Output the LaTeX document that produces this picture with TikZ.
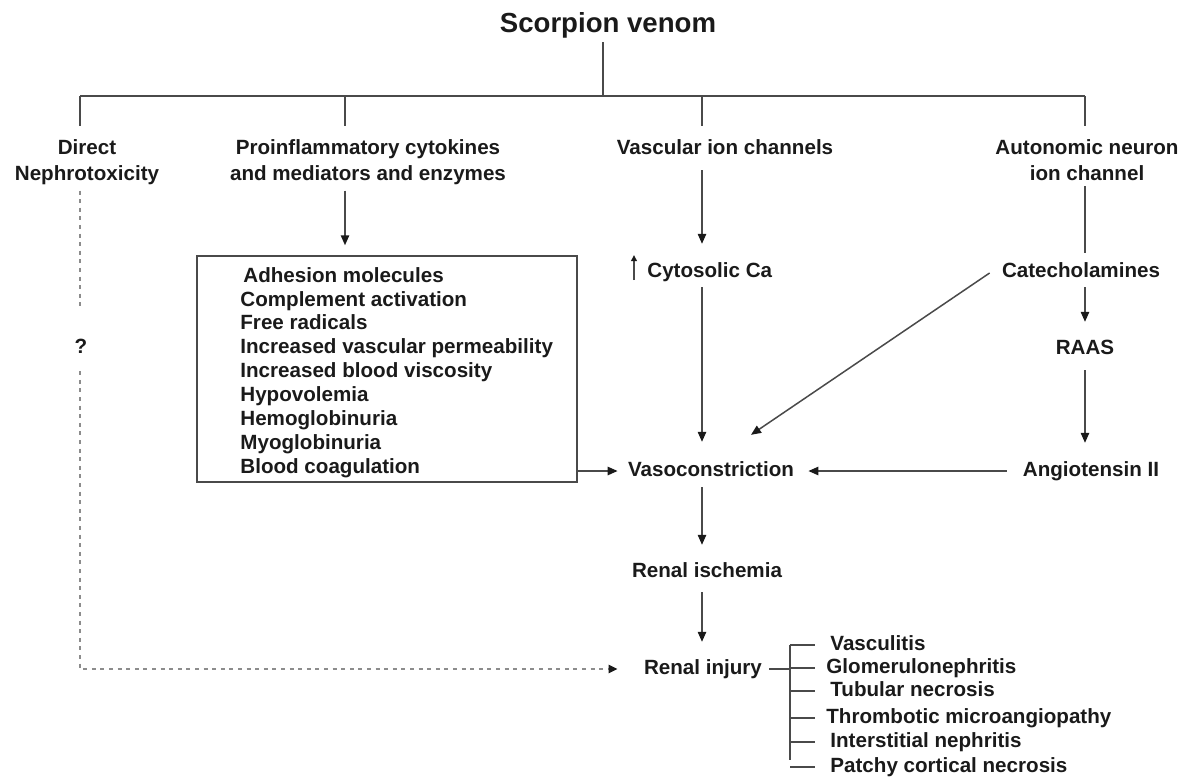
\documentclass[tikz,border=0pt]{standalone}
\usepackage{fontspec}
\setmainfont{Liberation Sans}
\usetikzlibrary{arrows.meta}
\definecolor{txt}{HTML}{1A1A1A}
\definecolor{lc}{HTML}{4A4A4A}
\definecolor{dc}{HTML}{8C8C8C}
\begin{document}
\begin{tikzpicture}[x=0.5pt,y=-0.5pt,
  lbl/.style={font=\fontsize{10.3}{13}\selectfont\bfseries, text=txt, inner sep=2pt, text height=7.6pt, text depth=2.2pt},
  mlbl/.style={font=\fontsize{10.3}{13}\selectfont\bfseries, text=txt, inner sep=2pt, align=center, anchor=north},
  ln/.style={draw=lc, line width=0.75pt},
  arr/.style={ln, -{Triangle[length=5pt,width=4.2pt,color=txt]}},
  dsh/.style={draw=dc, line width=1pt, dash pattern=on 2pt off 2.3pt},
  item/.style={lbl, anchor=west}]
\useasboundingbox (0,0) rectangle (1189,778);
% title
\node[lbl, font=\fontsize{13.8}{16}\selectfont\bfseries, text height=10pt, text depth=2.9pt] (title) at (608,25) {Scorpion venom};
% columns
\coordinate (cD) at (80,96);
\coordinate (cP) at (345,96);
\coordinate (cT) at (603,96);
\coordinate (cV) at (702,96);
\coordinate (cA) at (1085,96);
\coordinate (br) at (790,0);
% top labels
\node[mlbl] (dir) at (87,135.5) {Direct\\Nephrotoxicity};
\node[mlbl] (pro) at (368,135.5) {Proinflammatory cytokines\\and mediators and enzymes};
\node[lbl] (vas) at (725,149) {Vascular ion channels};
\node[mlbl] (aut) at (1087,135.5) {Autonomic neuron\\ion channel};
% tree
\draw[ln] (cD) -- (cA);
\draw[draw=lc, line width=1.3pt] (88,96) -- (151,96);
\draw[ln] (title.south -| cT) -- (cT);
\draw[ln, shorten >=4.75pt] (cD) -- (cD |- dir.north);
\draw[ln, shorten >=4.75pt] (cP) -- (cP |- dir.north);
\draw[ln, shorten >=4.75pt] (cV) -- (cV |- dir.north);
\draw[ln, shorten >=4.75pt] (cA) -- (cA |- dir.north);
% box
\node[draw=lc, line width=0.75pt, minimum width=190pt, minimum height=113pt, inner sep=0pt] (box) at (387,369) {};
\node[font=\fontsize{10.3}{11.95}\selectfont\bfseries, text=txt, align=left, anchor=west, inner sep=0pt] (list) at (240,372.5) {\hspace{1.5pt}Adhesion molecules\\Complement activation\\Free radicals\\Increased vascular permeability\\Increased blood viscosity\\Hypovolemia\\Hemoglobinuria\\Myoglobinuria\\Blood coagulation};
\draw[arr, shorten <=0.5pt, shorten >=5pt] (pro.south -| cP) -- (box.north -| cP);
% middle column
\node[lbl, anchor=west] (cyto) at (643,272) {Cytosolic Ca};
\draw[ln, -{Triangle[length=3pt,width=2.8pt,color=txt]}] ([xshift=-4.5pt,yshift=-4pt]cyto.west) -- ([xshift=-4.5pt,yshift=8.5pt]cyto.west);
\node[lbl] (vaso) at (711,471) {Vasoconstriction};
\node[lbl] (risch) at (707,572) {Renal ischemia};
\node[lbl] (inj) at (703,669) {Renal injury};
\draw[arr, shorten <=3.5pt, shorten >=7pt] (vas.south -| cV) -- (cyto.north -| cV);
\draw[arr, shorten <=0.5pt, shorten >=7.5pt] (cyto.south -| cV) -- (vaso.north -| cV);
\draw[arr, shorten <=1pt, shorten >=6.5pt] (vaso.south -| cV) -- (risch.north -| cV);
\draw[arr, shorten <=3pt, shorten >=6.5pt] (risch.south -| cV) -- (inj.north -| cV);
\draw[arr, shorten >=3pt] (box.east |- vaso) -- (vaso.west);
% right column
\node[lbl] (cat) at (1081,272) {Catecholamines};
\node[lbl] (raas) at (1085,349) {RAAS};
\node[lbl] (ang) at (1091,471) {Angiotensin II};
\draw[ln, shorten <=0.5pt, shorten >=2.5pt] (aut.south -| cA) -- (cat.north -| cA);
\draw[arr, shorten <=0.5pt, shorten >=6.5pt] (cat.south -| cA) -- (raas.north -| cA);
\draw[arr, shorten <=3.5pt, shorten >=7pt] (raas.south -| cA) -- (ang.north -| cA);
\draw[arr, shorten <=6pt, shorten >=5pt] (ang.west) -- (vaso.east);
\draw[arr] ([xshift=-4pt,yshift=-0.5pt]cat.west) -- ([xshift=20pt,yshift=11pt]vaso.north);
% dashed path
\node[lbl] (q) at (81,348) {?};
\draw[dsh, shorten <=0.5pt, shorten >=11.5pt] (dir.south -| cD) -- (q.north -| cD);
\draw[dsh, shorten <=4.5pt, shorten >=11pt, -{Triangle[length=4.5pt,width=4pt,color=txt,fill=txt]}] (q.south -| cD) |- (inj.west);
% outcomes
\node[item] (v1) at (826,645) {Vasculitis};
\node[item] (v2) at (822,668) {Glomerulonephritis};
\node[item] (v3) at (826,691) {Tubular necrosis};
\node[item] (v4) at (822,718) {Thrombotic microangiopathy};
\node[item] (v5) at (826,742) {Interstitial nephritis};
\node[item] (v6) at (826,767) {Patchy cortical necrosis};
\draw[ln, shorten <=1.5pt] (inj.east) -- (inj.east -| br);
\draw[ln] (v1.west -| br) -- ([yshift=3.5pt]v6.west -| br);
\foreach \i in {1,...,6} \draw[ln] (v\i.west -| br) -- ++(25,0);
\end{tikzpicture}
\end{document}
